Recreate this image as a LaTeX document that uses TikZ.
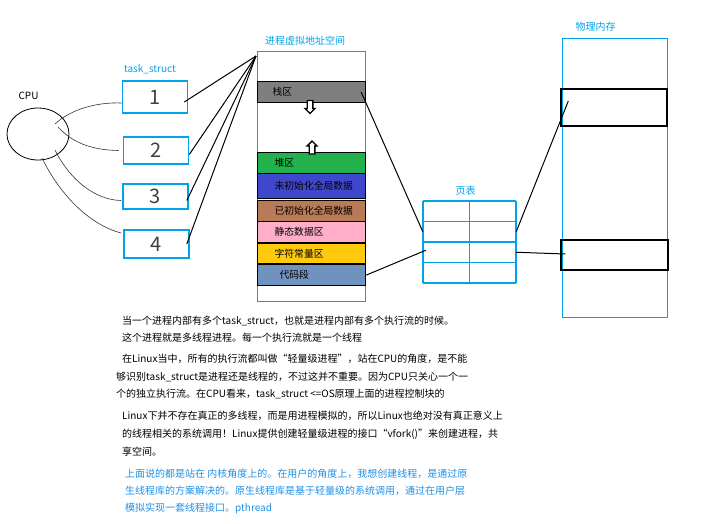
\documentclass[tikz,border=0pt]{standalone}
\usepackage{fontspec}
\setmainfont{Noto Sans CJK SC}
\usepackage{tikz}
\usetikzlibrary{positioning, calc, shapes.geometric, shapes.arrows}
\definecolor{winblue}{RGB}{0,162,232}
\definecolor{noteblue}{RGB}{30,144,230}
\definecolor{stackgray}{RGB}{127,127,127}
\definecolor{heapgreen}{RGB}{34,177,76}
\definecolor{bssblue}{RGB}{63,72,204}
\definecolor{databrown}{RGB}{185,122,87}
\definecolor{staticpink}{RGB}{255,174,201}
\definecolor{rodatayellow}{RGB}{255,201,14}
\definecolor{codeblue}{RGB}{112,146,190}
\tikzset{
  txt/.style={font=\fontsize{10}{12}\selectfont, inner sep=0pt},
  bluelabel/.style={txt, text=winblue},
  note/.style={txt, anchor=west},
  bluenote/.style={note, text=noteblue},
  taskbox/.style={draw=winblue, line width=1.6pt, minimum width=65pt,
    font=\fontsize{20}{20}\selectfont, text=black!75},
  seg/.style={draw=black, line width=1.2pt, anchor=north west, minimum width=108pt,
    text width=74pt, inner xsep=17pt, inner ysep=0pt, align=left,
    font=\fontsize{9.8}{12}\selectfont},
  growarrow/.style={single arrow, draw=black, line width=1.3pt, fill=white,
    minimum height=13pt, minimum width=10pt, inner sep=2pt, single arrow head extend=2pt},
  ptcell/.style={minimum width=46.5pt, minimum height=20.5pt, inner sep=0pt},
  ptline/.style={winblue, line width=1.5pt},
  frame/.style={draw=black, line width=1.4pt, inner sep=0pt},
  conn/.style={black, line width=1pt},
  wire/.style={black!80, line width=0.6pt}
}
\begin{document}
\begin{tikzpicture}[x=1pt, y=-1pt]
  \useasboundingbox (0,0) rectangle (704,523);
  % CPU y task_struct
  \node[draw, ellipse, line width=0.8pt, minimum width=62pt, minimum height=52pt] (cpu) at (38,134) {};
  \node[txt] (cpulabel) at (28.5,96) {CPU};
  \node[bluelabel] (tslabel) at (150,69) {task\_struct};
  \node[taskbox, minimum height=32pt] (t1) at (155,97) {1};
  \node[taskbox, minimum height=27pt] (t2) at (156,150.5) {2};
  \node[taskbox, minimum height=25pt] (t3) at (155.5,196.5) {3};
  \node[taskbox, minimum height=28pt] (t4) at (156.5,244) {4};
  \coordinate (c1) at (55,124);
  \coordinate (c2) at (58,127);
  \coordinate (c3) at (55,150);
  \coordinate (c4) at (42,158);
  \draw[wire] ($(t1.west)+(0,6)$) .. controls (95,102) and (70,110) .. (c1);
  \draw[wire] ($(t2.west)+(-4,0)$) .. controls (90,150) and (72,142) .. (c2);
  \draw[wire] ($(t3.west)+(-1,4)$) .. controls (95,200) and (70,180) .. (c3);
  \draw[wire] ($(t4.west)+(-2,-11)$) .. controls (90,225) and (60,195) .. (c4);
  % espacio virtual
  \node[bluelabel] (vaslabel) at (305,41) {进程虚拟地址空间};
  \node[draw=winblue, line width=1.3pt, minimum width=108pt, minimum height=250pt, anchor=north west] (vas) at (257,51) {};
  \node[seg, fill=stackgray, minimum height=21pt, inner xsep=15pt, text width=78pt] (stack) at (257,81) {栈区};
  \node[seg, fill=heapgreen, minimum height=21pt] (heap) at (257,152) {堆区};
  \node[seg, fill=bssblue, minimum height=25pt] (bss) at (257,173) {未初始化全局数据};
  \node[seg, fill=databrown, minimum height=21pt] (data) at (257,200) {已初始化全局数据};
  \node[seg, fill=staticpink, minimum height=21pt] (static) at (257,221) {静态数据区};
  \node[seg, fill=rodatayellow, minimum height=20pt] (rodata) at (257,243) {字符常量区};
  \node[seg, fill=codeblue, minimum height=21pt, inner xsep=22pt, text width=64pt] (code) at (257,264) {代码段};
  \node[growarrow, shape border rotate=270] (down) at (310,105.5) {};
  \node[growarrow, shape border rotate=90] (up) at (312,149) {};
  \coordinate (vcorner) at ($(vas.north west)+(-1,5)$);
  \draw[conn] ($(t1.east)+(-4,5)$) -- (vcorner);
  \draw[conn] ($(t2.east)+(0,4)$) -- (vcorner);
  \draw[conn] ($(t3.east)+(-2,4)$) -- (vcorner);
  \draw[conn] ($(t4.east)+(-3,0)$) -- (vcorner);
  % tabla de paginas
  \node[bluelabel] (ptlabel) at (465.5,191) {页表};
  \foreach \r in {1,...,4}
    \foreach \c in {1,2}
      \node[ptcell] (pt-\r-\c) at ({423+46.5*(\c-0.5)}, {201+20.5*(\r-0.5)}) {};
  \foreach \y in {0,...,4} \draw[ptline] (423,201+20.5*\y) -- (516,201+20.5*\y);
  \foreach \x in {0,1,2} \draw[ptline] (423+46.5*\x,201) -- (423+46.5*\x,283);
  % memoria fisica
  \node[bluelabel] (pmlabel) at (595.5,27) {物理内存};
  \node[draw=winblue, line width=1.3pt, minimum width=105pt, minimum height=279pt, anchor=north west] (pm) at (562,38) {};
  \node[frame, minimum width=106pt, minimum height=37pt] (f1) at (614,107.5) {};
  \node[frame, minimum width=107pt, minimum height=30pt] (f2) at (614.5,255) {};
  % mapeo
  \draw[conn] ($(stack.east)+(-5,0)$) -- (pt-2-1.west);
  \draw[conn] (code.east) -- ($(pt-3-1.west)+(3,-2)$);
  \draw[conn] (pt-2-2.east) -- ($(f1.west)+(8,-6.5)$);
  \draw[conn] (pt-3-2.east) -- ($(f2.west)+(5,-1)$);
  % notas
  \node[note] (n1) at (122,321) {当一个进程内部有多个task\_struct，也就是进程内部有多个执行流的时候。};
  \node[note] (n2) at (122,338) {这个进程就是多线程进程。每一个执行流就是一个线程};
  \node[note] (n3) at (122,359) {在Linux当中，所有的执行流都叫做“轻量级进程”，站在CPU的角度，是不能};
  \node[note] (n4) at (116,377) {够识别task\_struct是进程还是线程的，不过这并不重要。因为CPU只关心一个一};
  \node[note] (n5) at (116,394) {个的独立执行流。在CPU看来，task\_struct <=OS原理上面的进程控制块的};
  \node[note] (n6) at (122,416) {Linux下并不存在真正的多线程，而是用进程模拟的，所以Linux也绝对没有真正意义上};
  \node[note] (n7) at (122,434) {的线程相关的系统调用！Linux提供创建轻量级进程的接口“vfork()”来创建进程，共};
  \node[note] (n8) at (122,452) {享空间。};
  \node[bluenote] (n9) at (125,474) {上面说的都是站在 内核角度上的。在用户的角度上，我想创建线程，是通过原};
  \node[bluenote] (n10) at (125,491) {生线程库的方案解决的。原生线程库是基于轻量级的系统调用，通过在用户层};
  \node[bluenote] (n11) at (125,508) {模拟实现一套线程接口。pthread};
\end{tikzpicture}
\end{document}
